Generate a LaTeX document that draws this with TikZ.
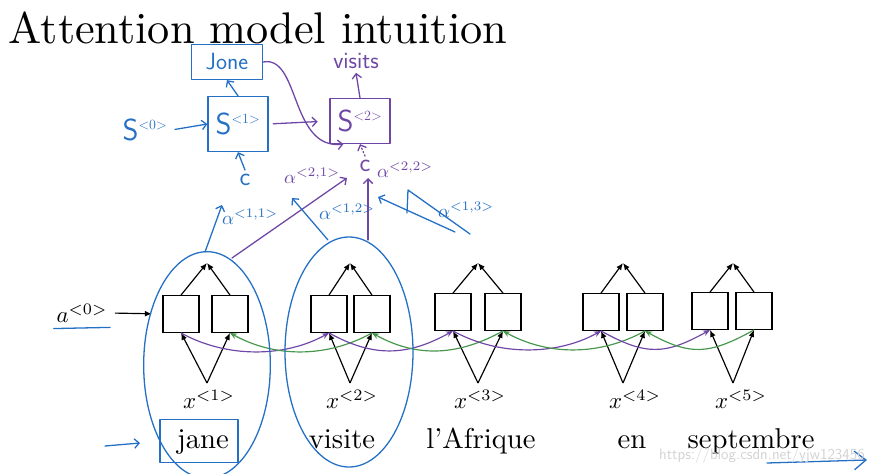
\documentclass[tikz,border=0pt]{standalone}
\usetikzlibrary{arrows.meta}
\definecolor{penblue}{RGB}{36,112,196}
\definecolor{penpurple}{RGB}{110,70,165}
\definecolor{pengreen}{RGB}{70,150,75}
\tikzset{
	cell/.style={draw,line width=1pt,minimum width=1.08cm,minimum height=1.1cm,inner sep=0pt},
	word/.style={anchor=base,scale=2.45},
	xin/.style={scale=1.95,inner sep=1pt},
	pen/.style={line width=1.1pt,line cap=round,line join=round},
	hd/.style={-{Straight Barb[length=4pt,width=8pt]}},
	hand/.style={font=\sffamily\fontsize{20}{22}\selectfont},
	big/.style={font=\sffamily\fontsize{26}{28}\selectfont},
	alf/.style={scale=1.6},
	link/.style={line width=1pt,-{Stealth[length=6pt,width=5pt]}},
	tip/.style={line width=1pt,-{Latex[length=6pt,width=5pt]}},
}
\begin{document}
\begin{tikzpicture}[x=0.03cm,y=-0.03cm]
		\useasboundingbox (0,0) rectangle (883,474);
		\node[anchor=base west,inner sep=0pt,scale=3.78] (title) at (8,43) {Attention model intuition};
		
		\foreach \i/\xl/\xr/\xa/\xx/\y in {1/181/230/207/209/314, 2/329/372/350/352/314, 3/453/503/478/480/312, 4/601/645/623/635/312, 5/710/754/733/741/311} {
			\node[cell] (l\i) at (\xl,\y) {}; \node[cell] (r\i) at (\xr,\y) {};
			\coordinate (top\i) at (\xa,263); \coordinate (bot\i) at (\xa,383);
			\draw[tip] (l\i.north) -- (top\i); \draw[tip] (r\i.north) -- (top\i);
			\draw[tip] (bot\i) -- (l\i.south); \draw[tip] (bot\i) -- (r\i.south);
			\node[xin] (x\i) at (\xx,399) {$x^{<\i>}$};
		}
		\foreach \i/\j in {1/2,2/3,3/4,4/5} {
			\draw[link,penpurple] (l\i.south) .. controls +(45,25) and +(-45,25) .. (l\j.south);
			\draw[link,pengreen] (r\j.south) .. controls +(-45,25) and +(45,25) .. (r\i.south);
		}
		
		\node[xin] (a0) at (82,313) {$a^{<0>}$};
		\draw[tip,shorten <=4pt,shorten >=9pt] (a0.east) -- (l1.west);
		\draw[pen,penblue] ([yshift=-3pt]a0.south west) -- ([yshift=-2pt]a0.south east);
		
		\node[word] (jane) at (203,448) {jane};
		\node[word] (visite) at (342,448) {visite};
		\node[word] (afrique) at (481,448) {l'Afrique};
		\node[word] (en) at (632,448) {en};
		\node[word] (septembre) at (751,448) {septembre};
		
		\draw[pen,penblue] (207,365) ellipse [x radius=1.9cm, y radius=3.4cm];
		\draw[pen,penblue] (349,352) ellipse [x radius=1.92cm, y radius=3.45cm];
		\node[draw=penblue,pen,minimum width=2.34cm,minimum height=1.29cm] (janebox) at (199,441) {};
		\coordinate (pl) at (105,446); \coordinate (pr) at (140,443);
		\draw[pen,penblue,hd] (pl) -- (pr);
		
		\node[draw=penblue,pen,hand,text=penblue,minimum width=2.13cm,minimum height=1.05cm] (jone) at (227,62) {Jone};
		\node[draw=penblue,pen,big,text=penblue,minimum width=1.8cm,minimum height=1.65cm] (s1) at (238,124) {S$^{\scriptscriptstyle <1>}$};
		\node[big,text=penblue] (s0) at (145,130) {S$^{\scriptscriptstyle <0>}$};
		\node[hand,text=penblue,font=\sffamily\fontsize{22}{24}\selectfont] (c1) at (245,180) {c};
		\draw[pen,penblue,hd] (s1.north) -- (jone.south);
		\draw[pen,penblue,hd,shorten <=3pt] (s0.east) -- (s1.west);
		\draw[pen,penblue,hd] (c1.north) -- (s1.south);
		
		\node[draw=penpurple,pen,big,text=penpurple,minimum width=1.8cm,minimum height=1.35cm] (s2) at (360,121) {S$^{\scriptscriptstyle <2>}$};
		\node[hand,text=penpurple] (visits) at (356,61) {visits};
		\node[hand,text=penpurple,font=\sffamily\fontsize{22}{24}\selectfont] (c2) at (365,166) {c};
		\draw[pen,penpurple,hd] (s2.north) -- (visits.south);
		\draw[pen,penpurple,hd,shorten <=4pt,shorten >=10pt] (s1.east) -- (s2.west);
		\draw[pen,penpurple,hd] (jone.east) .. controls (300,55) and (290,150) .. ([xshift=12pt]s2.south west);
		\draw[pen,penpurple,dotted,hd] (c2.north) -- (s2.south);
		
		\node[alf,text=penblue] (al11) at (250,217) {$\alpha^{<1,1>}$};
		\node[alf,text=penblue] (al12) at (347,212) {$\alpha^{<1,2>}$};
		\node[alf,text=penblue] (al13) at (466,210) {$\alpha^{<1,3>}$};
		\node[alf,text=penpurple] (al21) at (312,176) {$\alpha^{<2,1>}$};
		\node[alf,text=penpurple] (al22) at (405,170) {$\alpha^{<2,2>}$};
		
		\coordinate (o1) at (205,252); \coordinate (t11) at (222,205);
		\coordinate (o1b) at (232,258); \coordinate (t21) at (347,178);
		\coordinate (o2) at (328,240); \coordinate (t12) at (292,198);
		\coordinate (v2) at (368,240); \coordinate (t22) at (368,178);
		\coordinate (o3) at (455,232); \coordinate (t13) at (378,197);
		\draw[pen,penblue,hd] (o1) -- (t11);
		\draw[pen,penpurple,hd] (o1b) -- (t21);
		\draw[pen,penblue,hd] (o2) -- (t12);
		\draw[pen,penpurple,hd] (v2) -- (t22);
		\draw[pen,penblue,hd] (o3) -- (t13);
		\draw[pen,penblue] (407,213) -- (408,190) -- (470,234);
		
		\coordinate (ql) at (767,463); \coordinate (qr) at (867,460);
		\draw[pen,penblue,-{Straight Barb[length=10pt,width=16pt]}] (ql) -- (qr);
		\node[text=gray!35,font=\sffamily\fontsize{13}{14}\selectfont] (wm) at (762,456) {https://blog.csdn.net/yjw123456};
\end{tikzpicture}
\end{document}
